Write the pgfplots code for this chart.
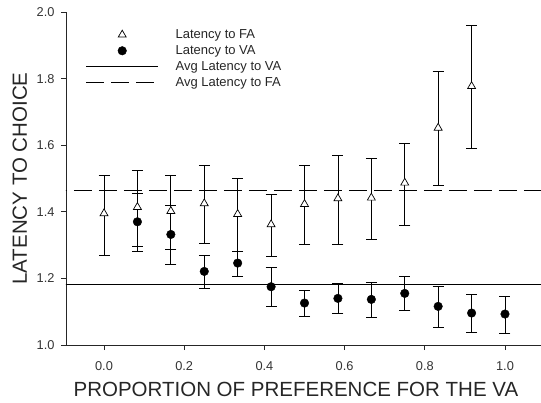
\documentclass[border=0pt]{standalone}
\usepackage{pgfplots}
\usepackage{pgfplotstable}
\pgfplotsset{compat=1.18}
\usepackage{fontspec}
\setmainfont{Liberation Sans}

\pgfplotstableread{
x y ep em
0.0000 1.395 0.115 0.125
0.0833 1.414 0.111 0.119
0.1667 1.402 0.108 0.116
0.2500 1.425 0.115 0.121
0.3333 1.393 0.107 0.112
0.4167 1.362 0.091 0.097
0.5000 1.423 0.115 0.120
0.5833 1.440 0.130 0.137
0.6667 1.442 0.119 0.126
0.7500 1.487 0.119 0.127
0.8333 1.652 0.169 0.174
0.9167 1.777 0.183 0.187
}\fa

\pgfplotstableread{
x y ep em
0.0833 1.370 0.086 0.090
0.1667 1.332 0.088 0.089
0.2500 1.221 0.049 0.052
0.3333 1.246 0.035 0.040
0.4167 1.175 0.057 0.059
0.5000 1.126 0.038 0.040
0.5833 1.140 0.044 0.046
0.6667 1.137 0.050 0.053
0.7500 1.155 0.050 0.052
0.8333 1.116 0.060 0.064
0.9167 1.096 0.056 0.059
1.0000 1.093 0.054 0.058
}\va

\begin{document}
\begin{tikzpicture}
\useasboundingbox (-66pt,-57pt) rectangle (475pt,345pt);
\begin{axis}[
  at={(0,0)}, anchor=south west,
  scale only axis, width=475pt, height=333pt,
  xmin=-0.0948, xmax=1.0898, ymin=1.0, ymax=2.0,
  axis x line*=bottom, axis y line*=left,
  axis line style={black!85, line width=0.9pt},
  tick align=outside, major tick length=5pt,
  tick style={black!85, line width=0.8pt},
  xtick={0,0.2,0.4,0.6,0.8,1.0},
  ytick={1.0,1.2,1.4,1.6,1.8,2.0},
  /pgf/number format/assume math mode=true,
  xticklabel style={/pgf/number format/.cd, fixed, fixed zerofill, precision=1, /tikz/.cd, anchor=center, yshift=-16.5pt},
  yticklabel style={/pgf/number format/.cd, fixed, fixed zerofill, precision=1, /tikz/.cd, xshift=-3pt},
  tick label style={font=\fontsize{12.8}{14}\selectfont, text=black!80},
  xlabel={PROPORTION OF PREFERENCE FOR THE VA},
  ylabel={LATENCY TO CHOICE},
  every axis x label/.style={at={(axis description cs:0.484,-0.132)}, anchor=center, font=\fontsize{20.5}{22}\selectfont, text=black!85},
  every axis y label/.style={at={(axis description cs:-0.097,0.5)}, anchor=center, rotate=90, font=\fontsize{20.5}{22}\selectfont, text=black!85},
  clip=true,
  legend image code/.code={\draw[mark repeat=2,mark phase=2,#1] plot coordinates {(0pt,0pt) (36pt,0pt) (72pt,0pt)};},
  legend style={draw=none, fill=none, at={(axis description cs:0.035,0.96)}, anchor=north west,
    font=\fontsize{13}{13}\selectfont, text=black!85, row sep=1.5pt, column sep=0pt,
    nodes={inner sep=1pt, text height=9.5pt, text depth=3pt}},
  legend cell align=left,
  legend columns=1,
]
\addplot[black, line width=0.8pt, forget plot] coordinates {(-0.2,1.182) (1.2,1.182)};
\addplot[black, line width=0.8pt, dash pattern=on 18pt off 7pt, forget plot] coordinates {(-0.2,1.465) (1.2,1.465)};

\addplot[only marks, mark=triangle*, mark size=4.6pt, mark options={fill=white, draw=black, line width=0.7pt},
  error bars/.cd, y dir=both, y explicit, error mark=|, error mark options={mark size=5.5pt, line width=0.8pt, black},
  error bar style={line width=0.8pt, black}]
  table[x=x, y=y, y error plus=ep, y error minus=em] {\fa};
\addlegendentry{\hspace{16pt}Latency to FA}

\addplot[only marks, mark=*, mark size=4.3pt, mark options={fill=black, draw=black},
  error bars/.cd, y dir=both, y explicit, error mark=|, error mark options={mark size=5.5pt, line width=0.8pt, black},
  error bar style={line width=0.8pt, black}]
  table[x=x, y=y, y error plus=ep, y error minus=em] {\va};
\addlegendentry{\hspace{16pt}Latency to VA}

\addlegendimage{black, line width=0.8pt}
\addlegendentry{\hspace{16pt}Avg Latency to VA}
\addlegendimage{black, line width=0.8pt, dash pattern=on 18pt off 7pt}
\addlegendentry{\hspace{16pt}Avg Latency to FA}
\end{axis}
\end{tikzpicture}
\end{document}
